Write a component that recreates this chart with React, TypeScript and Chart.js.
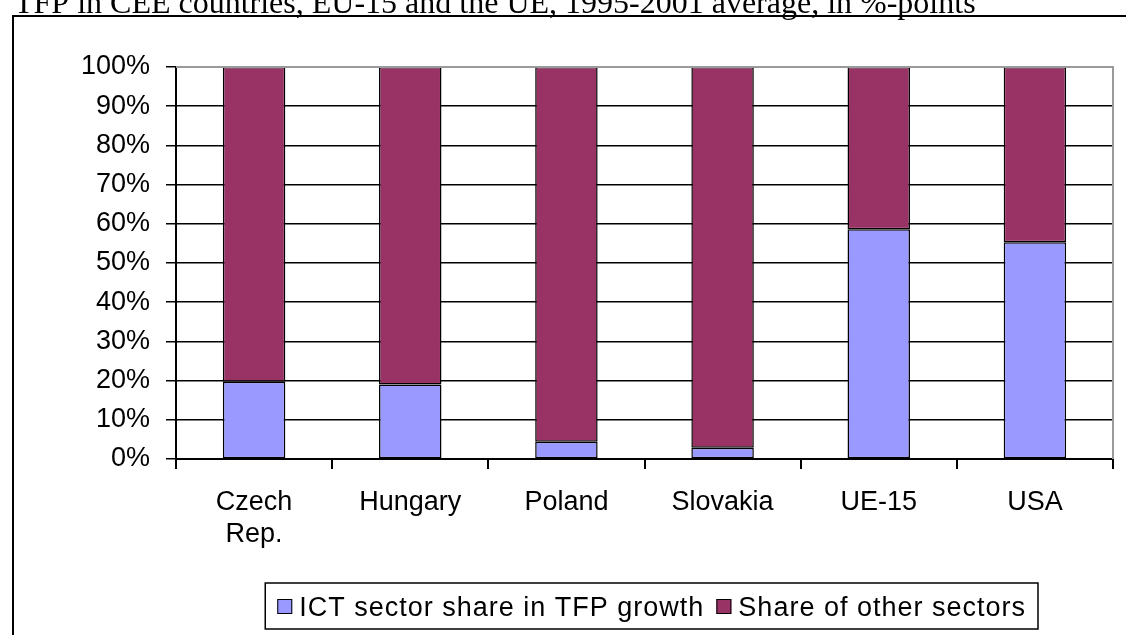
import React, { useEffect, useRef } from 'react';
import { Chart, registerables } from 'chart.js';

Chart.register(...registerables);

const titleText = 'TFP in CEE countries, EU-15 and the UE, 1995-2001 average, in %-points';
const categories: (string | string[])[] = [['Czech', 'Rep.'], 'Hungary', 'Poland', 'Slovakia', 'UE-15', 'USA'];
const ictShare = [19.7, 19.0, 4.4, 2.9, 58.6, 55.3];
const otherShare = [80.3, 81.0, 95.6, 97.1, 41.4, 44.7];
const seriesNames = ['ICT sector share in TFP growth', 'Share of other sectors'];
const seriesColors = ['#9999FF', '#993366'];
const yMin = 0;
const yMax = 100;
const yStep = 10;

const SANS = '"Liberation Sans", Arial, sans-serif';
const SERIF = '"Liberation Serif", "Times New Roman", serif';

const decor = {
  id: 'decor',
  beforeDraw(chart: any) {
    const ctx = chart.ctx;
    ctx.save();
    ctx.fillStyle = '#ffffff';
    ctx.fillRect(0, 0, chart.width, chart.height);
    ctx.restore();
  },
  afterDraw(chart: any) {
    const ctx = chart.ctx;
    const a = chart.chartArea;
    ctx.save();
    // outer frame
    ctx.strokeStyle = '#000';
    ctx.lineWidth = 2;
    ctx.beginPath();
    ctx.moveTo(13, chart.height + 5);
    ctx.lineTo(13, 16);
    ctx.lineTo(chart.width + 5, 16);
    ctx.stroke();
    // title
    ctx.font = '32px ' + SERIF;
    ctx.fillStyle = '#000';
    ctx.textBaseline = 'alphabetic';
    ctx.textAlign = 'left';
    ctx.fillText(titleText, 14, 13);
    // plot area right/top border
    ctx.strokeStyle = '#9a9a9a';
    ctx.lineWidth = 2;
    ctx.beginPath();
    ctx.moveTo(a.left, a.top);
    ctx.lineTo(a.right, a.top);
    ctx.lineTo(a.right, a.bottom);
    ctx.stroke();
    // legend
    ctx.font = '27px ' + SANS;
    try { (ctx as any).letterSpacing = '1px'; } catch (e) {}
    const w = seriesNames.map((s) => ctx.measureText(s).width);
    const pad = 12, mk = 15, g1 = 7, g2 = 12;
    const total = pad + mk + g1 + w[0] + g2 + mk + g1 + w[1] + pad;
    const right = 1038;
    const left = right - total;
    const top = 583, bottom = 629;
    ctx.strokeStyle = '#000';
    ctx.lineWidth = 1.5;
    ctx.strokeRect(left, top, total, bottom - top);
    let x = left + pad;
    chart.data.datasets.forEach((ds: any, i: number) => {
      ctx.fillStyle = ds.backgroundColor;
      ctx.fillRect(x, 599, mk, mk);
      ctx.strokeStyle = '#000';
      ctx.lineWidth = 1;
      ctx.strokeRect(x + 0.5, 599.5, mk - 1, mk - 1);
      ctx.fillStyle = '#000';
      ctx.textBaseline = 'alphabetic';
      ctx.fillText(ds.label, x + mk + g1, 616);
      x += mk + g1 + w[i] + g2;
    });
    ctx.restore();
  },
};

export default function App() {
  const ref = useRef<HTMLCanvasElement>(null);
  useEffect(() => {
    document.body.style.margin = '0';
    const canvas = ref.current!;
    const chart = new Chart(canvas, {
      type: 'bar',
      data: {
        labels: categories as any,
        datasets: [
          {
            label: seriesNames[0],
            data: ictShare,
            backgroundColor: seriesColors[0],
            borderColor: '#000',
            borderWidth: 1.5,
            borderSkipped: false,
            categoryPercentage: 1,
            barPercentage: 0.4,
          },
          {
            label: seriesNames[1],
            data: otherShare,
            backgroundColor: seriesColors[1],
            borderColor: '#000',
            borderWidth: 1.5,
            borderSkipped: false,
            categoryPercentage: 1,
            barPercentage: 0.4,
          },
        ],
      },
      options: {
        responsive: false,
        animation: false,
        devicePixelRatio: 1,
        layout: { padding: { top: 67, right: 13, left: 0, bottom: 0 } },
        plugins: {
          legend: { display: false },
          tooltip: { enabled: false },
          title: { display: false },
        },
        scales: {
          x: {
            stacked: true,
            grid: {
              display: true,
              drawOnChartArea: false,
              drawTicks: true,
              tickLength: 10,
              color: '#000',
              lineWidth: 2,
              offset: true,
            },
            border: { display: true, color: '#000', width: 2 },
            ticks: {
              font: { family: SANS, size: 27 },
              color: '#000',
              padding: 17,
              maxRotation: 0,
              autoSkip: false,
            },
            afterFit: (s: any) => { s.height = 176; },
          },
          y: {
            stacked: true,
            min: yMin,
            max: yMax,
            grid: { color: '#000', lineWidth: 1.5, tickLength: 10, drawTicks: true },
            border: { display: true, color: '#000', width: 2 },
            ticks: {
              stepSize: yStep,
              font: { family: SANS, size: 27 },
              color: '#000',
              padding: 16,
              callback: (v: any) => v + '%',
            },
            afterFit: (s: any) => { s.width = 176; },
          },
        },
      },
      plugins: [decor],
    });
    return () => chart.destroy();
  }, []);
  return (
    <div style={{ position: 'absolute', left: 0, top: 0, width: 1126, height: 635 }}>
      <canvas ref={ref} width={1126} height={635} style={{ display: 'block' }} />
    </div>
  );
}
